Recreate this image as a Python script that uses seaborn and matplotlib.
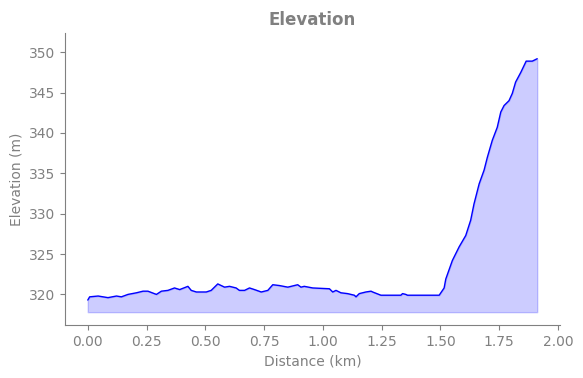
import numpy as np
import pandas as pd
import seaborn as sns
import matplotlib.pyplot as plt

# elevation profile
distance_km = [
    0.000, 0.008, 0.044, 0.086, 0.122, 0.143, 0.171, 0.207, 0.235, 0.256,
    0.292, 0.313, 0.341, 0.369, 0.391, 0.426, 0.440, 0.462, 0.490, 0.504,
    0.525, 0.553, 0.582, 0.603, 0.631, 0.645, 0.667, 0.688, 0.709, 0.738,
    0.766, 0.787, 0.815, 0.851, 0.893, 0.907, 0.921, 0.957, 1.028, 1.042,
    1.056, 1.077, 1.105, 1.134, 1.141, 1.155, 1.183, 1.205, 1.212, 1.247,
    1.332, 1.339, 1.353, 1.360, 1.495, 1.516, 1.523, 1.551, 1.580, 1.608,
    1.629, 1.643, 1.665, 1.686, 1.700, 1.721, 1.742, 1.757, 1.771, 1.792,
    1.806, 1.820, 1.842, 1.865, 1.891, 1.912,
]
elevation_m = [
    319.3, 319.7, 319.8, 319.6, 319.8, 319.7, 320.0, 320.2, 320.4, 320.4,
    320.0, 320.4, 320.5, 320.8, 320.6, 321.0, 320.5, 320.3, 320.3, 320.3,
    320.5, 321.3, 320.9, 321.0, 320.8, 320.5, 320.5, 320.8, 320.6, 320.3,
    320.5, 321.2, 321.1, 320.9, 321.2, 320.9, 321.0, 320.8, 320.7, 320.3,
    320.5, 320.2, 320.1, 319.9, 319.7, 320.1, 320.3, 320.4, 320.3, 319.9,
    319.9, 320.1, 320.0, 319.9, 319.9, 320.8, 321.9, 324.2, 325.9, 327.3,
    329.2, 331.2, 333.7, 335.4, 337.0, 339.1, 340.7, 342.6, 343.4, 344.0,
    344.9, 346.3, 347.5, 348.9, 348.9, 349.2,
]
fill_base = 317.8

df = pd.DataFrame({'distance': distance_km, 'elevation': elevation_m})

sns.set_style('ticks')
grey = '#808080'
plt.rcParams.update({
    'text.color': grey,
    'axes.labelcolor': grey,
    'axes.edgecolor': grey,
    'xtick.color': grey,
    'ytick.color': grey,
})

fig, ax = plt.subplots(figsize=(5.83, 3.78), dpi=100)
sns.lineplot(data=df, x='distance', y='elevation', color='blue',
             linewidth=1, ax=ax)
ax.fill_between(df['distance'], df['elevation'], fill_base,
                color='blue', alpha=0.2)
ax.set_ylim(316.2, 352.4)
ax.set_xlabel('Distance (km)')
ax.set_ylabel('Elevation (m)')
ax.set_title('Elevation', fontsize=12, fontweight='bold', color=grey)
sns.despine(ax=ax)

fig.subplots_adjust(left=0.112, right=0.96, top=0.913, bottom=0.14)
fig.savefig('out.png', dpi=100)
